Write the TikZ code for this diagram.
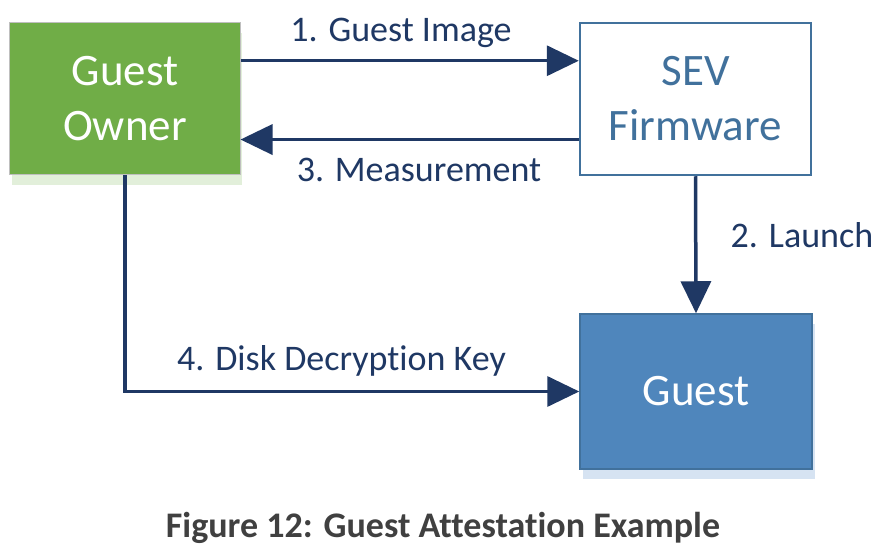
\documentclass[tikz,border=0pt]{standalone}
\usepackage{fontspec}
\setmainfont{Carlito}[Ligatures={NoCommon}]
\usetikzlibrary{calc}
\usetikzlibrary{positioning}
\usetikzlibrary{arrows.meta}
\usetikzlibrary{shadows}

\definecolor{ownergreen}{HTML}{70AD47}
\definecolor{ownershade}{HTML}{E2EFDA}
\definecolor{guestblue}{HTML}{4F86BC}
\definecolor{guestshade}{HTML}{D6E3F2}
\definecolor{sevblue}{HTML}{41719C}
\definecolor{flownavy}{HTML}{1F3864}
\definecolor{captiongray}{HTML}{404040}

\begin{document}
\begin{tikzpicture}[x=1bp,y=-1bp,
box/.style={minimum width=230bp,minimum height=152bp,inner sep=0pt,align=center,font=\fontsize{45bp}{55bp}\selectfont},
flow/.style={draw=flownavy,line width=3.5bp,-{Triangle[length=32bp,width=30bp]}},
lbl/.style={text=flownavy,font=\fontsize{36bp}{43bp}\selectfont,inner sep=0pt,anchor=base}]

\path[use as bounding box,fill=white] (0,0) rectangle (886,560);

\node[box,fill=ownergreen,draw=black!25,line width=1bp,text=white,drop shadow={shadow xshift=2bp,shadow yshift=-10bp,fill=ownershade,opacity=1}] (owner) at (125,99) {Guest\\Owner};
\node[box,minimum width=231bp,fill=white,draw=sevblue,line width=2.5bp,text=sevblue] (sev) at (695.5,99) {SEV\\Firmware};
\node[box,minimum width=232bp,minimum height=155bp,fill=guestblue,draw=sevblue,line width=1.5bp,text=white,drop shadow={shadow xshift=3bp,shadow yshift=-10bp,fill=guestshade,opacity=1}] (guest) at (696,391.5) {Guest};

\coordinate (a) at ($(owner.north east)!0.5!(owner.east)$);
\coordinate (b) at ($(owner.east)!0.53!(owner.south east)$);

\draw[flow] (a) -- (a -| sev.west);
\draw[flow] (b -| sev.west) -- (b);
\draw[flow] (sev.south) -- (guest.north);
\draw[flow] (owner.south) |- (guest.west);

\node[lbl] (imagelbl) at (401,42) {1. Guest Image};
\node[lbl] (measurelbl) at (419,182) {3. Measurement};
\node[lbl] (launchlbl) at (802,248) {2. Launch};
\node[lbl] (keylbl) at (341.5,370) {4. Disk Decryption Key};

\node[anchor=base,inner sep=0pt,text=captiongray,font=\bfseries\fontsize{36bp}{43bp}\selectfont] (caption) at (443,537) {Figure 12: Guest Attestation Example};

\end{tikzpicture}
\end{document}
